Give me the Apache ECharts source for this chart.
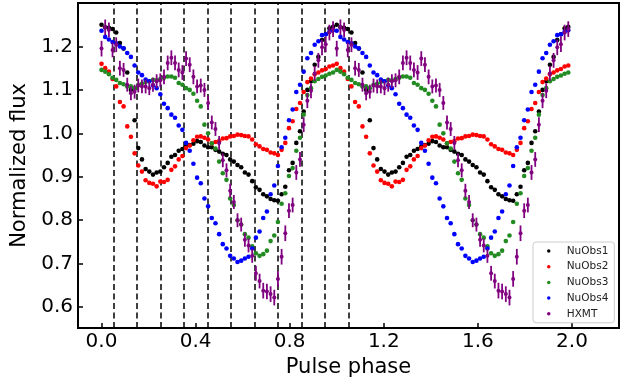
<!DOCTYPE html>
<html>
<head>
<meta charset="utf-8">
<script src="https://cdn.jsdelivr.net/npm/echarts@6/dist/echarts.min.js"></script>
<style>
  html, body { margin: 0; padding: 0; background: #fff; }
  #chart { width: 633px; height: 383px; }
</style>
</head>
<body>
<div id="chart"></div>
<script>
// One pulse cycle in 64 phase bins (plotted twice, phase 0-2)
const phase = [0.0000,0.0156,0.0313,0.0469,0.0625,0.0781,0.0938,0.1094,
               0.1250,0.1406,0.1563,0.1719,0.1875,0.2031,0.2188,0.2344,
               0.2500,0.2656,0.2813,0.2969,0.3125,0.3281,0.3438,0.3594,
               0.3750,0.3906,0.4063,0.4219,0.4375,0.4531,0.4688,0.4844,
               0.5000,0.5156,0.5313,0.5469,0.5625,0.5781,0.5938,0.6094,
               0.6250,0.6406,0.6563,0.6719,0.6875,0.7031,0.7188,0.7344,
               0.7500,0.7656,0.7813,0.7969,0.8125,0.8281,0.8438,0.8594,
               0.8750,0.8906,0.9063,0.9219,0.9375,0.9531,0.9688,0.9844];

const nuObs1 = [1.250,1.244,1.243,1.240,1.232,1.208,1.195,1.140,
                1.100,1.030,0.966,0.940,0.918,0.912,0.905,0.910,
                0.912,0.922,0.932,0.946,0.950,0.960,0.964,0.970,
                0.973,0.976,0.982,0.980,0.972,0.968,0.968,0.962,
                0.958,0.953,0.950,0.940,0.935,0.927,0.922,0.910,
                0.905,0.890,0.876,0.870,0.860,0.855,0.849,0.846,
                0.845,0.860,0.877,0.915,0.932,0.978,1.005,1.050,
                1.100,1.120,1.158,1.176,1.215,1.228,1.242,1.245];

const nuObs2 = [1.160,1.150,1.142,1.125,1.108,1.072,1.062,1.016,
                0.992,0.954,0.926,0.912,0.892,0.886,0.884,0.878,
                0.889,0.888,0.893,0.916,0.924,0.940,0.948,0.966,
                0.972,0.984,0.992,0.993,0.990,0.986,0.977,0.980,
                0.982,0.988,0.989,0.993,0.994,0.997,0.996,0.994,
                0.993,0.986,0.975,0.970,0.964,0.962,0.956,0.954,
                0.950,0.962,0.978,1.012,1.028,1.056,1.070,1.095,
                1.118,1.126,1.136,1.140,1.145,1.148,1.154,1.156];

const nuObs3 = [1.146,1.142,1.136,1.128,1.123,1.116,1.113,1.108,
                1.108,1.104,1.112,1.114,1.118,1.120,1.123,1.122,
                1.125,1.128,1.131,1.131,1.128,1.116,1.112,1.104,
                1.100,1.091,1.075,1.062,1.020,1.000,0.977,0.965,
                0.935,0.908,0.893,0.850,0.835,0.800,0.790,0.768,
                0.760,0.740,0.724,0.718,0.722,0.730,0.752,0.765,
                0.796,0.838,0.862,0.902,0.920,0.960,0.990,1.043,
                1.088,1.104,1.120,1.125,1.130,1.133,1.137,1.140];

const nuObs4 = [1.236,1.222,1.216,1.210,1.207,1.200,1.196,1.185,
                1.176,1.156,1.140,1.134,1.124,1.120,1.110,1.104,
                1.090,1.068,1.058,1.043,1.036,1.018,1.008,0.978,
                0.960,0.930,0.898,0.885,0.850,0.832,0.805,0.793,
                0.768,0.745,0.735,0.718,0.712,0.704,0.707,0.712,
                0.716,0.735,0.760,0.774,0.805,0.820,0.860,0.880,
                0.925,0.968,0.990,1.030,1.055,1.095,1.112,1.142,
                1.173,1.185,1.204,1.212,1.226,1.228,1.234,1.237];

const hxmt    = [1.195,1.244,1.238,1.192,1.204,1.150,1.146,1.112,
                 1.092,1.096,1.110,1.108,1.108,1.104,1.112,1.120,
                 1.122,1.130,1.162,1.174,1.162,1.146,1.140,1.172,
                 1.158,1.130,1.108,1.110,1.100,1.070,1.025,1.010,
                 0.978,0.938,0.915,0.868,0.842,0.800,0.790,0.755,
                 0.742,0.718,0.678,0.660,0.638,0.636,0.630,0.622,
                 0.665,0.716,0.770,0.822,0.835,0.910,0.940,1.020,
                 1.075,1.098,1.138,1.168,1.198,1.205,1.232,1.240];

const hxmtErr = [0.018,0.018,0.017,0.017,0.017,0.017,0.016,0.016,
                 0.016,0.016,0.016,0.016,0.016,0.016,0.016,0.016,
                 0.016,0.017,0.017,0.017,0.017,0.017,0.017,0.017,
                 0.017,0.017,0.016,0.016,0.016,0.016,0.016,0.016,
                 0.016,0.016,0.016,0.016,0.016,0.016,0.016,0.016,
                 0.016,0.016,0.017,0.017,0.018,0.018,0.018,0.018,
                 0.018,0.018,0.018,0.017,0.017,0.017,0.017,0.017,
                 0.017,0.017,0.017,0.017,0.018,0.018,0.018,0.018];

const dashedPhases = [0.05,0.15,0.25,0.35,0.45,0.55,0.65,0.75,0.85,0.95,1.05];
const xTicks = [0.0,0.4,0.8,1.2,1.6,2.0];
const yTicks = [0.6,0.7,0.8,0.9,1.0,1.1,1.2];
const seriesNames = ['NuObs1','NuObs2','NuObs3','NuObs4','HXMT'];
const seriesColors = ['#000000','#ff0000','#228b22','#0000ff','#800080'];

function twoCycles(vals) {
  const a = phase.map((p, i) => [p, vals[i]]);
  const b = phase.map((p, i) => [+(p + 1).toFixed(4), vals[i]]);
  return a.concat(b);
}
function twoCyclesErr(vals, errs) {
  const a = phase.map((p, i) => [p, vals[i], errs[i]]);
  const b = phase.map((p, i) => [+(p + 1).toFixed(4), vals[i], errs[i]]);
  return a.concat(b);
}

const FONT = 'DejaVu Sans';
const chart = echarts.init(document.getElementById('chart'), null, { renderer: 'canvas' });

const scatterSeries = [nuObs1, nuObs2, nuObs3, nuObs4].map((vals, k) => ({
  name: seriesNames[k],
  type: 'scatter',
  data: twoCycles(vals),
  symbol: 'circle',
  symbolSize: 4.6,
  itemStyle: { color: seriesColors[k], opacity: 1 },
  emphasis: { disabled: true },
  z: 3 + k
}));

scatterSeries[0].markLine = {
  silent: true,
  symbol: ['none', 'none'],
  label: { show: false },
  lineStyle: { color: '#000', type: [6, 3.5], width: 1.5 },
  data: dashedPhases.map(x => ({ xAxis: x })),
  z: 2
};

const hxmtSeries = {
  name: 'HXMT',
  type: 'custom',
  data: twoCyclesErr(hxmt, hxmtErr),
  itemStyle: { color: seriesColors[4] },
  encode: { x: 0, y: 1 },
  z: 10,
  renderItem: function (params, api) {
    const x = api.value(0), y = api.value(1), e = api.value(2);
    const lo = api.coord([x, y - e]);
    const hi = api.coord([x, y + e]);
    const c = api.coord([x, y]);
    return {
      type: 'group',
      children: [
        { type: 'line', shape: { x1: lo[0], y1: lo[1], x2: hi[0], y2: hi[1] },
          style: { stroke: '#800080', lineWidth: 1.8 } },
        { type: 'circle', shape: { cx: c[0], cy: c[1], r: 2 },
          style: { fill: '#800080' } }
      ]
    };
  }
};

const option = {
  animation: false,
  backgroundColor: '#ffffff',
  grid: {
    left: 78, right: 14, top: 3, bottom: 55,
    show: true, borderColor: '#000', borderWidth: 2, backgroundColor: 'transparent'
  },
  xAxis: {
    type: 'value',
    min: -0.1, max: 2.2,
    name: 'Pulse phase',
    nameLocation: 'middle',
    nameGap: 25,
    nameTextStyle: { fontFamily: FONT, fontSize: 21, color: '#000' },
    axisLine: { show: false, onZero: false },
    splitLine: { show: false },
    axisTick: { show: true, inside: true, length: 5, lineStyle: { color: '#000', width: 1.5 }, customValues: xTicks },
    axisLabel: { fontFamily: FONT, fontSize: 20, color: '#000', margin: 4, customValues: xTicks,
                 formatter: v => v.toFixed(1) }
  },
  yAxis: {
    type: 'value',
    min: 0.552, max: 1.30,
    name: 'Normalized flux',
    nameLocation: 'middle',
    nameGap: 37,
    nameTextStyle: { fontFamily: FONT, fontSize: 21, color: '#000' },
    axisLine: { show: false, onZero: false },
    splitLine: { show: false },
    axisTick: { show: true, inside: true, length: 5, lineStyle: { color: '#000', width: 1.5 }, customValues: yTicks },
    axisLabel: { fontFamily: FONT, fontSize: 20, color: '#000', margin: 5, customValues: yTicks,
                 formatter: v => v.toFixed(1) }
  },
  legend: {
    data: seriesNames,
    orient: 'vertical',
    left: 533, top: 242,
    padding: [3, 6, 3, 14],
    itemGap: 3.7,
    itemWidth: 26, itemHeight: 3.5,
    icon: 'circle',
    backgroundColor: 'rgba(255,255,255,0.8)',
    borderColor: '#cccccc', borderWidth: 1, borderRadius: 3,
    textStyle: { fontFamily: FONT, fontSize: 10.5, color: '#222', lineHeight: 12, padding: [0, 0, 0, 0] },
    selectedMode: false
  },
  series: scatterSeries.concat([hxmtSeries])
};

chart.setOption(option);
</script>
</body>
</html>
